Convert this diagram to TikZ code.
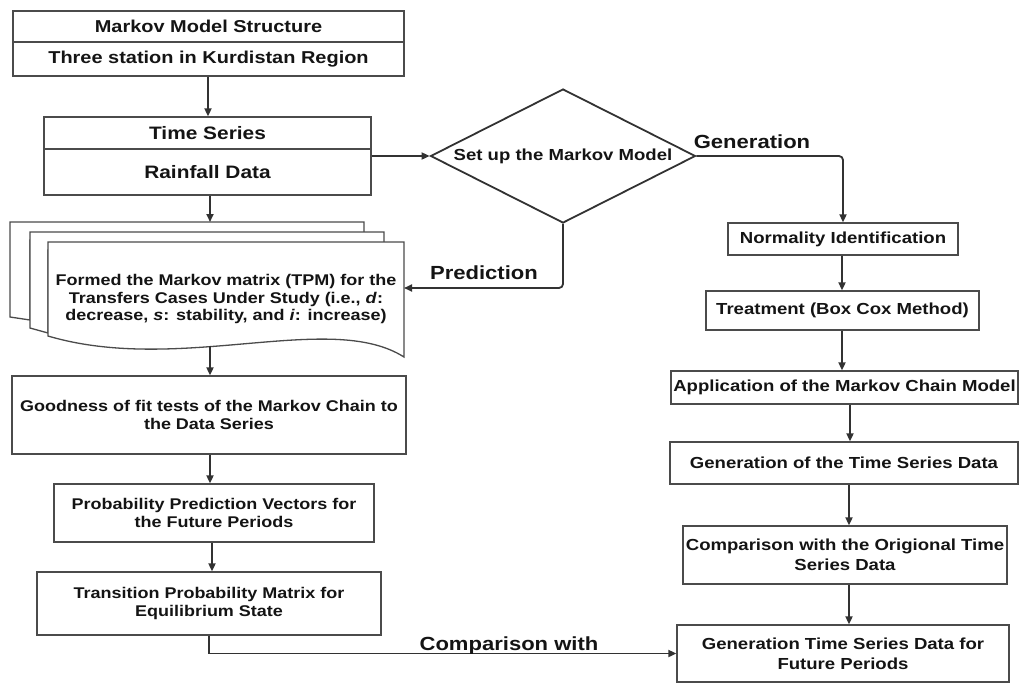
\documentclass[tikz,border=0pt]{standalone}
\usepackage{fontspec}
\setmainfont{Liberation Sans}[FakeStretch=1.16]
\usetikzlibrary{arrows.meta,shapes.geometric}
\definecolor{bordercol}{RGB}{75,75,75}
\definecolor{linecol}{RGB}{50,50,50}
\definecolor{txtcol}{RGB}{20,20,20}
\newcommand{\fsT}{\fontsize{17.2}{19}\selectfont\bfseries}
\newcommand{\fsTT}{\fontsize{18}{20}\selectfont\bfseries}
\newcommand{\fsA}{\fontsize{16}{18}\selectfont\bfseries}
\newcommand{\fsB}{\fontsize{15.5}{17.5}\selectfont\bfseries}
\newcommand{\fsC}{\fontsize{16}{20}\selectfont\bfseries}
\newcommand{\fsL}{\fontsize{19}{22}\selectfont\bfseries}
\tikzset{
  box/.style={draw=bordercol, line width=1.3pt, align=center, inner sep=0pt, text=txtcol},
  conn/.style={draw=linecol, line width=1.8pt, -{Triangle[length=8pt,width=7pt]}},
  lbl/.style={text=txtcol, inner sep=0pt, font=\fsL},
  page/.style={draw=bordercol, line width=1.3pt, fill=white},
}
\begin{document}
\begin{tikzpicture}[x=1pt,y=-1pt]
\useasboundingbox (0,0) rectangle (1019,683);
% ---- top boxes
\node[box, minimum width=391pt, minimum height=31pt, font=\fsT] (b1a) at (208.5,26.5) {Markov Model Structure};
\node[box, minimum width=391pt, minimum height=34pt, font=\fsT] (b1b) at (208.5,59) {Three station in Kurdistan Region};
\node[box, minimum width=327pt, minimum height=32pt, font=\fsTT] (b2a) at (207.5,133) {Time Series};
\node[box, minimum width=327pt, minimum height=46pt, font=\fsTT] (b2b) at (207.5,172) {Rainfall Data};
% ---- document stack
\draw[page] (10,317) -- (10,222) -- (364,222) -- (364,240) -- (30,240) -- (30,320) -- cycle;
\draw[page] (30,328) -- (30,232) -- (384,232) -- (384,250) -- (48,250) -- (48,333) -- cycle;
\draw[page] (48,336) -- (48,242) -- (404,242) -- (404,357)
  .. controls (330,310) and (180,375) .. (48,336) -- cycle;
\coordinate (doctop) at (210,222);
\coordinate (docbot) at (210,346);
\coordinate (docin) at (404,288);
\node[align=center, inner sep=0pt, text=txtcol, font=\fsB] (doc) at (226,299)
  {Formed the Markov matrix (TPM) for the\\Transfers Cases Under Study (i.e., \textit{d}:\\decrease, \textit{s}: stability, and \textit{i}: increase)};
% ---- left column
\node[box, minimum width=394pt, minimum height=78pt, font=\fsB] (good) at (209,415) {Goodness of fit tests of the Markov Chain to\\the Data Series};
\node[box, minimum width=320pt, minimum height=58pt, font=\fsB] (prob) at (214,513) {Probability Prediction Vectors for\\the Future Periods};
\node[box, minimum width=344pt, minimum height=63pt, font=\fsB] (trans) at (209,603.5) {Transition Probability Matrix for\\Equilibrium State};
% ---- diamond
\node[draw=linecol, line width=1.8pt, shape=diamond, shape aspect=2, inner sep=0pt,
      minimum width=265pt, minimum height=134pt, text=txtcol, font=\fsA] (dia) at (563,156) {Set up the Markov Model};
% ---- right column
\node[box, minimum width=230pt, minimum height=32pt, font=\fsA] (norm) at (843,239) {Normality Identification};
\node[box, minimum width=273pt, minimum height=39pt, font=\fsA] (treat) at (842.5,310.5) {Treatment (Box Cox Method)};
\node[box, minimum width=347pt, minimum height=33pt, font=\fsA] (app) at (844.5,387.5) {Application of the Markov Chain Model};
\node[box, minimum width=348pt, minimum height=42pt, font=\fsA] (gts) at (844,463) {Generation of the Time Series Data};
\node[box, minimum width=324pt, minimum height=58pt, font=\fsC] (comp) at (845,555) {Comparison with the Origional Time\\Series Data};
\node[box, minimum width=332pt, minimum height=57pt, font=\fsC] (genf) at (843,653.5) {Generation Time Series Data for\\Future Periods};
% ---- connectors
\draw[conn] (b1b.south -| 208,0) -- (b2a.north -| 208,0);
\draw[conn] (b2b.east |- dia.west) -- (dia.west);
\draw[conn] (b2b.south -| doctop) -- (doctop);
\draw[conn] (docbot) -- (good.north -| docbot);
\draw[conn] (good.south -| 210,0) -- (prob.north -| 210,0);
\draw[conn] (prob.south -| 212,0) -- (trans.north -| 212,0);
\draw[conn] (trans.south) |- (genf.west);
\draw[conn, rounded corners=4pt] (dia.east) -| (norm.north);
\draw[conn, rounded corners=4pt] (dia.south) |- (docin);
\draw[conn] (norm.south -| 842,0) -- (treat.north -| 842,0);
\draw[conn] (treat.south -| 842,0) -- (app.north -| 842,0);
\draw[conn] (app.south -| 850,0) -- (gts.north -| 850,0);
\draw[conn] (gts.south -| 849,0) -- (comp.north -| 849,0);
\draw[conn] (comp.south -| 849,0) -- (genf.north -| 849,0);
% ---- labels
\node[lbl] (lgen) at (752,142) {Generation};
\node[lbl] (lpred) at (484,273) {Prediction};
\node[lbl] (lcomp) at (509,646) {Comparison with};
\end{tikzpicture}
\end{document}
